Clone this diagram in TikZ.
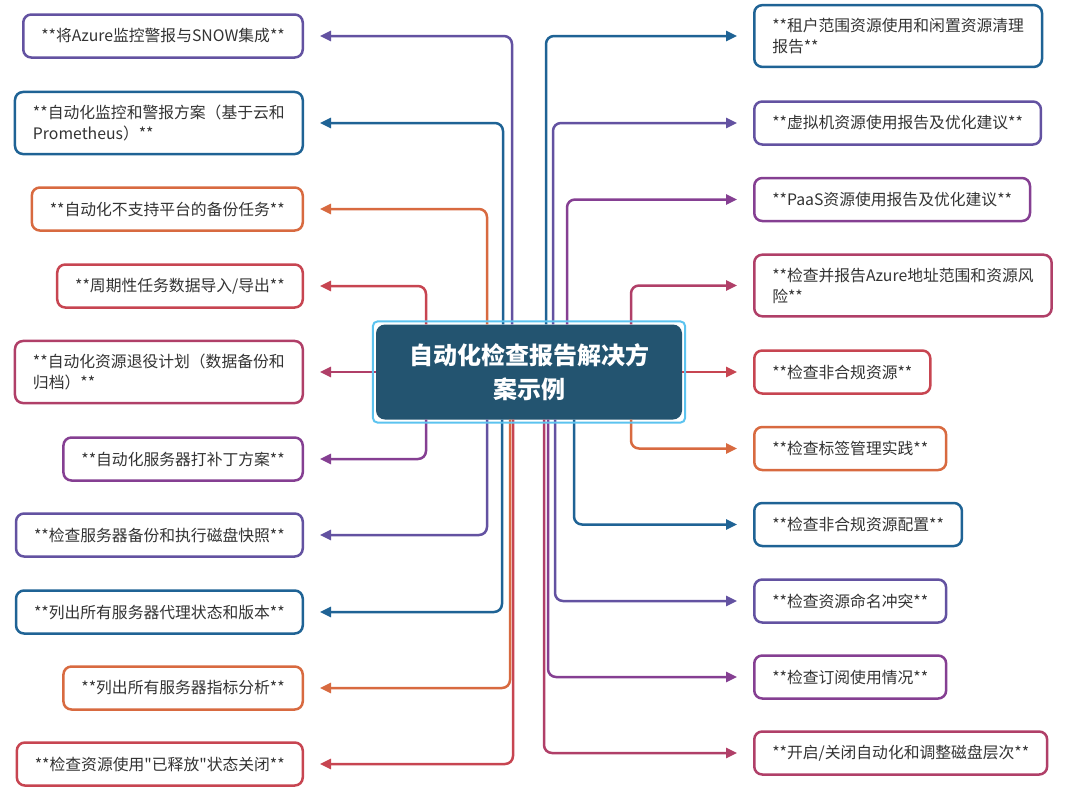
\documentclass[tikz,border=0pt]{standalone}
\usepackage{fontspec}
\newfontfamily\mapfont{Noto Sans CJK SC}
\usetikzlibrary{arrows.meta}
\definecolor{hubfill}{HTML}{235470}
\definecolor{hubrim}{HTML}{5CC3EF}
\definecolor{txtgray}{HTML}{333333}
\definecolor{cblue}{HTML}{1F6395}
\definecolor{cviolet}{HTML}{6352A1}
\definecolor{corange}{HTML}{D86A40}
\definecolor{cred}{HTML}{C74551}
\definecolor{ccrimson}{HTML}{B03F68}
\definecolor{cplum}{HTML}{853F92}
\begin{document}
\begin{tikzpicture}[x=1pt,y=-1pt,
    leaf/.style={draw=#1,line width=2.5pt,rounded corners=8pt,fill=white,text=txtgray,align=left,
        inner xsep=18pt,inner ysep=13pt,minimum height=43pt,font=\mapfont\fontsize{15.8}{21}\selectfont},
    link/.style={draw=#1,line width=2.5pt,rounded corners=8pt,shorten >=16pt,
        -{Triangle[length=11pt,width=10pt]}},
    hub/.style={fill=hubfill,text=white,rounded corners=9pt,align=center,minimum width=306pt,
        minimum height=95pt,font=\mapfont\bfseries\fontsize{24}{34}\selectfont},
    rim/.style={draw=hubrim,line width=2pt,rounded corners=5pt}]
    \useasboundingbox (0,0) rectangle (1080,793);
    \node[hub] (ctr) at (529,372) {自动化检查报告解决方\\案示例};
        \node[leaf=cviolet,anchor=east] (L1) at (304,36) {**将Azure监控警报与SNOW集成**};
        \node[leaf=cblue,anchor=east] (L2) at (304,123) {**自动化监控和警报方案（基于云和\\Prometheus）**};
        \node[leaf=corange,anchor=east] (L3) at (304,209) {**自动化不支持平台的备份任务**};
        \node[leaf=cred,anchor=east] (L4) at (304,286) {**周期性任务数据导入/导出**};
        \node[leaf=ccrimson,anchor=east] (L5) at (304,372) {**自动化资源退役计划（数据备份和\\归档）**};
        \node[leaf=cplum,anchor=east] (L6) at (304,459) {**自动化服务器打补丁方案**};
        \node[leaf=cviolet,anchor=east] (L7) at (304,535) {**检查服务器备份和执行磁盘快照**};
        \node[leaf=cblue,anchor=east] (L8) at (304,612) {**列出所有服务器代理状态和版本**};
        \node[leaf=corange,anchor=east] (L9) at (304,688) {**列出所有服务器指标分析**};
        \node[leaf=cred,anchor=east] (L10) at (304,764) {**检查资源使用"已释放"状态关闭**};
        \node[leaf=cblue,anchor=west] (R1) at (753,36) {**租户范围资源使用和闲置资源清理\\报告**};
        \node[leaf=cviolet,anchor=west] (R2) at (753,123) {**虚拟机资源使用报告及优化建议**};
        \node[leaf=cplum,anchor=west] (R3) at (753,199.5) {**PaaS资源使用报告及优化建议**};
        \node[leaf=ccrimson,anchor=west] (R4) at (753,285.5) {**检查并报告Azure地址范围和资源风\\险**};
        \node[leaf=cred,anchor=west] (R5) at (753,372) {**检查非合规资源**};
        \node[leaf=corange,anchor=west] (R6) at (753,448.5) {**检查标签管理实践**};
        \node[leaf=cblue,anchor=west] (R7) at (753,524.5) {**检查非合规资源配置**};
        \node[leaf=cviolet,anchor=west] (R8) at (753,601) {**检查资源命名冲突**};
        \node[leaf=cplum,anchor=west] (R9) at (753,677) {**检查订阅使用情况**};
        \node[leaf=ccrimson,anchor=west] (R10) at (753,753) {**开启/关闭自动化和调整磁盘层次**};
    \draw[link=cviolet] ([xshift=-17pt]ctr.north) |- (L1.east);
    \draw[link=cblue] ([xshift=-26pt]ctr.north) |- (L2.east);
    \draw[link=corange] ([xshift=-42pt]ctr.north) |- (L3.east);
    \draw[link=cred] ([xshift=-103pt]ctr.north) |- (L4.east);
    \draw[link=ccrimson] (ctr.west) -- (L5.east);
    \draw[link=cplum] ([xshift=-103pt]ctr.south) |- (L6.east);
    \draw[link=cviolet] ([xshift=-42pt]ctr.south) |- (L7.east);
    \draw[link=cblue] ([xshift=-27pt]ctr.south) |- (L8.east);
    \draw[link=corange] ([xshift=-19pt]ctr.south) |- (L9.east);
    \draw[link=cred] ([xshift=-16pt]ctr.south) |- (L10.east);
    \draw[link=cblue] ([xshift=17pt]ctr.north) |- (R1.west);
    \draw[link=cviolet] ([xshift=24pt]ctr.north) |- (R2.west);
    \draw[link=cplum] ([xshift=38pt]ctr.north) |- (R3.west);
    \draw[link=ccrimson] ([xshift=102pt]ctr.north) |- (R4.west);
    \draw[link=cred] (ctr.east) -- (R5.west);
    \draw[link=corange] ([xshift=102pt]ctr.south) |- (R6.west);
    \draw[link=cblue] ([xshift=45pt]ctr.south) |- (R7.west);
    \draw[link=cviolet] ([xshift=26pt]ctr.south) |- (R8.west);
    \draw[link=cplum] ([xshift=19pt]ctr.south) |- (R9.west);
    \draw[link=ccrimson] ([xshift=15pt]ctr.south) |- (R10.west);
    \draw[rim] ([xshift=-3pt,yshift=3pt]ctr.north west) rectangle ([xshift=3pt,yshift=-3pt]ctr.south east);
\end{tikzpicture}
\end{document}
